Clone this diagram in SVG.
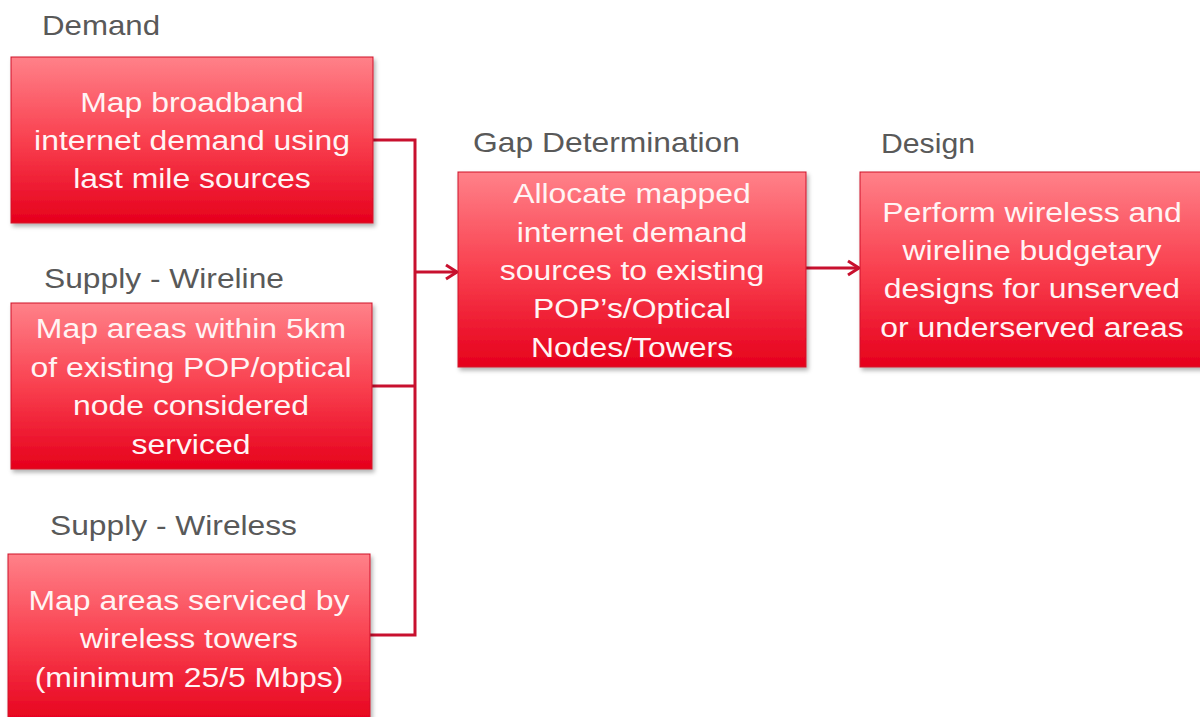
<svg xmlns="http://www.w3.org/2000/svg" width="1200" height="717" viewBox="0 0 1200 717">
<defs>
<linearGradient id="g" x1="0" y1="0" x2="0" y2="1">
<stop offset="0" stop-color="#ff8189"/>
<stop offset="0.5" stop-color="#f9404f"/>
<stop offset="1" stop-color="#e6001c"/>
</linearGradient>
<filter id="sh" x="-5%" y="-5%" width="115%" height="120%">
<feDropShadow dx="2" dy="3" stdDeviation="2" flood-color="#000" flood-opacity="0.3"/>
</filter>
<marker id="ah" markerUnits="userSpaceOnUse" markerWidth="16" markerHeight="18" refX="14" refY="9" orient="auto">
<path d="M3,2 L14,9 L3,16" fill="none" stroke="#c8102e" stroke-width="3"/>
</marker>
<style>
.box{fill:url(#g);stroke:#d0102a;stroke-width:1;filter:url(#sh)}
.bt{font-family:"Liberation Sans",Arial,sans-serif;font-size:28px;fill:#fff4f4;text-anchor:middle}
.lb{font-family:"Liberation Sans",Arial,sans-serif;font-size:28px;fill:#595959}
.cn{fill:none;stroke:#c8102e;stroke-width:3}
</style>
</defs>
<rect width="1200" height="717" fill="#ffffff"/>

<g id="connectors">
<path class="cn" d="M373,140 H415 V635 H370"/>
<path class="cn" d="M372,386 H415"/>
<path class="cn" d="M415,272 H457" marker-end="url(#ah)"/>
<path class="cn" d="M806,268 H859" marker-end="url(#ah)"/>
</g>

<g id="demand">
<text class="lb" x="42" y="35" textLength="118" lengthAdjust="spacingAndGlyphs">Demand</text>
<rect class="box" x="11" y="57" width="362" height="166"/>
<g transform="translate(192 0) scale(1.14 1)">
<text class="bt" x="0" y="112">Map broadband</text>
<text class="bt" x="0" y="150">internet demand using</text>
<text class="bt" x="0" y="188">last mile sources</text>
</g>
</g>

<g id="supply-wireline">
<text class="lb" x="44" y="288" textLength="240" lengthAdjust="spacingAndGlyphs">Supply - Wireline</text>
<rect class="box" x="11" y="303" width="361" height="166"/>
<g transform="translate(191 0) scale(1.14 1)">
<text class="bt" x="0" y="338">Map areas within 5km</text>
<text class="bt" x="0" y="377">of existing POP/optical</text>
<text class="bt" x="0" y="415">node considered</text>
<text class="bt" x="0" y="454">serviced</text>
</g>
</g>

<g id="supply-wireless">
<text class="lb" x="50" y="535" textLength="247" lengthAdjust="spacingAndGlyphs">Supply - Wireless</text>
<rect class="box" x="8" y="554" width="362" height="170"/>
<g transform="translate(189 0) scale(1.14 1)">
<text class="bt" x="0" y="610">Map areas serviced by</text>
<text class="bt" x="0" y="648">wireless towers</text>
<text class="bt" x="0" y="687">(minimum 25/5 Mbps)</text>
</g>
</g>

<g id="gap-determination">
<text class="lb" x="473" y="152" textLength="267" lengthAdjust="spacingAndGlyphs">Gap Determination</text>
<rect class="box" x="458" y="172" width="348" height="195"/>
<g transform="translate(632 0) scale(1.14 1)">
<text class="bt" x="0" y="203">Allocate mapped</text>
<text class="bt" x="0" y="242">internet demand</text>
<text class="bt" x="0" y="280">sources to existing</text>
<text class="bt" x="0" y="318">POP’s/Optical</text>
<text class="bt" x="0" y="357">Nodes/Towers</text>
</g>
</g>

<g id="design">
<text class="lb" x="881" y="153" textLength="94" lengthAdjust="spacingAndGlyphs">Design</text>
<rect class="box" x="860" y="172" width="350" height="195"/>
<g transform="translate(1032 0) scale(1.14 1)">
<text class="bt" x="0" y="222">Perform wireless and</text>
<text class="bt" x="0" y="260">wireline budgetary</text>
<text class="bt" x="0" y="298">designs for unserved</text>
<text class="bt" x="0" y="337">or underserved areas</text>
</g>
</g>
</svg>
